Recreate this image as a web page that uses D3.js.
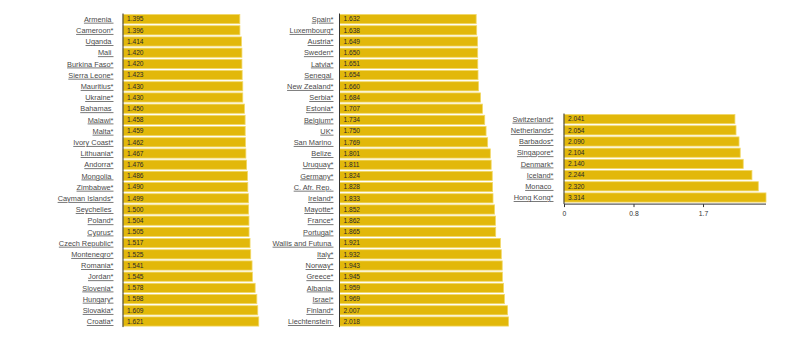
<!DOCTYPE html>
<html>
<head>
<meta charset="utf-8">
<script src="https://cdn.jsdelivr.net/npm/d3@7"></script>
<style>
  html, body { margin: 0; padding: 0; background: #fff; }
  svg { display: block; font-family: "Liberation Sans", Arial, sans-serif; }
  .name { font-size: 7.4px; fill: #4a4a4a; text-decoration: underline; }
  .val { font-size: 6.6px; fill: #2a2a2a; }
  .tick text { font-size: 6.8px; fill: #333; }
</style>
</head>
<body>
<svg id="chart" width="800" height="340"></svg>
<script>
// Country values, split into three columns
const names1 = ["Armenia", "Cameroon*", "Uganda", "Mali", "Burkina Faso*", "Sierra Leone*", "Mauritius*",
  "Ukraine*", "Bahamas", "Malawi*", "Malta*", "Ivory Coast*", "Lithuania*", "Andorra*", "Mongolia",
  "Zimbabwe*", "Cayman Islands*", "Seychelles", "Poland*", "Cyprus*", "Czech Republic*", "Montenegro*",
  "Romania*", "Jordan*", "Slovenia*", "Hungary*", "Slovakia*", "Croatia*"];
const values1 = [1.395, 1.396, 1.414, 1.420, 1.420, 1.423, 1.430, 1.430, 1.450, 1.458, 1.459, 1.462, 1.467,
  1.476, 1.486, 1.490, 1.499, 1.500, 1.504, 1.505, 1.517, 1.525, 1.541, 1.545, 1.578, 1.598, 1.609, 1.621];

const names2 = ["Spain*", "Luxembourg*", "Austria*", "Sweden*", "Latvia*", "Senegal", "New Zealand*",
  "Serbia*", "Estonia*", "Belgium*", "UK*", "San Marino", "Belize", "Uruguay*", "Germany*", "C. Afr. Rep.",
  "Ireland*", "Mayotte*", "France*", "Portugal*", "Wallis and Futuna", "Italy*", "Norway*", "Greece*",
  "Albania", "Israel*", "Finland*", "Liechtenstein"];
const values2 = [1.632, 1.638, 1.649, 1.650, 1.651, 1.654, 1.660, 1.684, 1.707, 1.734, 1.750, 1.769, 1.801,
  1.811, 1.824, 1.828, 1.833, 1.852, 1.862, 1.865, 1.921, 1.932, 1.943, 1.945, 1.959, 1.969, 2.007, 2.018];

const names3 = ["Switzerland*", "Netherlands*", "Barbados*", "Singapore*", "Denmark*", "Iceland*",
  "Monaco", "Hong Kong*"];
const values3 = [2.041, 2.054, 2.090, 2.104, 2.140, 2.244, 2.320, 3.314];

const tickValues = [0, 0.83, 1.66];
const tickLabels = ["0", "0.8", "1.7"];

const svg = d3.select("#chart");
const rowH = 11.2;

// shared horizontal scale; values past the end are held at the edge
const x = d3.scaleLinear().domain([0, 2.412]).range([0, 202]).clamp(true);

function column(names, values, left, top, labelGap, withAxis) {
  const g = svg.append("g").attr("transform", `translate(${left},${top})`);
  const y = d3.scaleBand().domain(names).range([0, names.length * rowH]).paddingInner(0.18).paddingOuter(0.09);
  const rows = names.map((n, i) => ({ name: n, value: values[i] }));

  g.selectAll("rect.bar").data(rows).join("rect")
    .attr("class", "bar")
    .attr("x", 0.5)
    .attr("y", d => y(d.name))
    .attr("width", d => x(d.value))
    .attr("height", y.bandwidth())
    .attr("fill", "#e2b80a")
    .attr("stroke", "#f1d867")
    .attr("stroke-width", 0.8);

  g.selectAll("text.val").data(rows).join("text")
    .attr("class", "val")
    .attr("x", 4.5)
    .attr("y", d => y(d.name) + y.bandwidth() / 2)
    .attr("dy", "0.36em")
    .text(d => d.value.toFixed(3));

  g.selectAll("text.name").data(rows).join("text")
    .attr("class", "name")
    .attr("x", -labelGap)
    .attr("y", d => y(d.name) + y.bandwidth() / 2)
    .attr("dy", "0.36em")
    .attr("text-anchor", "end")
    .text(d => d.name.endsWith("*") ? d.name : d.name + "\u00a0");

  const h = names.length * rowH;
  g.append("line")
    .attr("x1", 0.5).attr("x2", 0.5)
    .attr("y1", 0).attr("y2", h + (withAxis ? 1 : 0))
    .attr("stroke", "#333").attr("stroke-width", 1);

  if (withAxis) {
    const ax = g.append("g")
      .attr("transform", `translate(0.5,${h + 1})`)
      .call(d3.axisBottom(x).tickValues(tickValues).tickFormat((d, i) => tickLabels[i]).tickSize(3).tickPadding(4));
    ax.select(".domain").attr("stroke", "#333").attr("d", `M0,0H${x.range()[1]}`);
    ax.selectAll(".tick line").attr("stroke", "#333");
    ax.selectAll(".tick text").attr("font-family", null).attr("font-size", null);
  }
}

column(names1, values1, 122.5, 13.5, 9, false);
column(names2, values2, 339, 13.5, 5.5, false);
column(names3, values3, 563.5, 113.5, 10, true);
</script>
</body>
</html>
